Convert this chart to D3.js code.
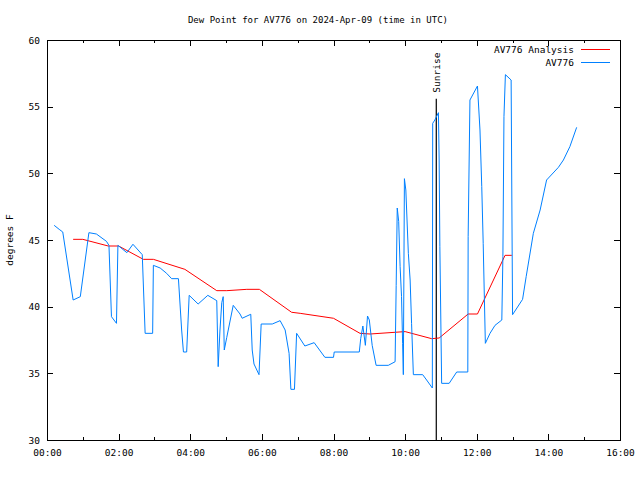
<!DOCTYPE html>
<html><head><meta charset="utf-8">
<script src="https://cdn.jsdelivr.net/npm/d3@7/dist/d3.min.js"></script>
<style>
body{margin:0;background:#fff;}
svg text{font-family:"DejaVu Sans Mono","Liberation Mono",monospace;font-size:9.5px;fill:#000;}
</style></head>
<body>
<svg id="c" width="640" height="480"></svg>
<script>
const title = "Dew Point for AV776 on 2024-Apr-09 (time in UTC)";
const yLabel = "degrees F";
const seriesNames = ["AV776 Analysis", "AV776"];
const seriesColors = ["#ff0000", "#0080ff"];
const xTickHours = [0,2,4,6,8,10,12,14,16];
const yTicks = [30,35,40,45,50,55,60];
const sunriseHour = 10.87;
const sunriseLabel = "Sunrise";

// observed dew point (hours UTC, degrees F)
const obsHours = [0.20,0.34,0.44,0.73,0.93,1.17,1.38,1.66,1.73,1.80,1.94,1.98,2.23,2.40,2.66,2.74,2.95,2.97,3.16,3.34,3.48,3.67,3.76,3.81,3.90,3.97,4.22,4.49,4.74,4.78,4.83,4.88,4.92,4.95,5.02,5.20,5.39,5.45,5.69,5.73,5.78,5.92,5.98,6.29,6.51,6.65,6.76,6.81,6.91,6.97,7.20,7.46,7.76,8.00,8.02,8.72,8.76,8.82,8.89,8.95,9.00,9.08,9.19,9.53,9.72,9.75,9.78,9.82,9.86,9.90,9.93,9.95,9.98,10.02,10.09,10.14,10.18,10.23,10.49,10.60,10.76,10.77,10.83,10.93,10.95,10.97,11.02,11.23,11.44,11.75,11.76,11.81,12.02,12.09,12.14,12.18,12.24,12.37,12.51,12.70,12.73,12.76,12.80,12.96,12.98,13.00,13.28,13.38,13.58,13.77,13.95,14.28,14.42,14.60,14.79];
const obsValues = [46.1,45.8,45.6,40.5,40.75,45.55,45.45,44.9,44.6,39.25,38.75,44.6,44.05,44.68,43.9,38.0,38.0,43.1,42.9,42.5,42.1,42.1,38.25,36.6,36.6,40.85,40.2,40.85,40.45,35.5,38.25,40.3,40.75,36.75,37.7,40.1,39.45,39.13,39.43,36.75,35.7,34.9,38.7,38.7,38.95,38.25,36.5,33.8,33.8,38.0,37.05,37.3,36.2,36.2,36.6,36.6,37.6,38.55,37.1,39.3,39.0,37.1,35.6,35.6,35.87,41.6,47.4,46.4,43.0,40.75,37.25,34.9,49.6,48.75,44.0,42.0,38.75,34.9,34.9,34.5,33.9,53.75,54.0,54.55,51.0,44.5,34.25,34.25,35.1,35.1,45.25,55.5,56.55,53.25,49.0,44.75,37.25,38.0,38.6,39.0,43.75,54.25,57.4,57.0,48.0,39.4,40.55,42.25,45.5,47.25,49.5,50.45,51.0,52.0,53.45];

// analysis dew point
const anaHours = [0.73,1.00,1.71,2.00,2.69,2.97,3.85,4.74,5.02,5.58,5.93,6.83,7.07,8.00,8.74,9.02,10.00,10.74,10.95,11.76,12.02,12.79,12.98];
const anaValues = [45.05,45.05,44.55,44.55,43.55,43.55,42.8,41.2,41.2,41.3,41.3,39.58,39.5,39.13,38.0,37.95,38.13,37.6,37.65,39.45,39.45,43.85,43.85];

const L = 47, R = 620, T = 40, B = 440;
const svg = d3.select("#c");
const x = d3.scaleLinear().domain([0,16]).range([L,R]);
const y = d3.scaleLinear().domain([30,60]).range([B,T]);
const fmt = h => String(h).padStart(2,"0") + ":00";
const allHours = d3.range(0,17);
const minorHours = allHours.filter(h => h % 2 === 1);

// title
svg.append("text").attr("x",318).attr("y",23).attr("text-anchor","middle")
  .style("font-size","9px").text(title);

// axes
const gB = svg.append("g").attr("transform",`translate(0,${B})`)
  .call(d3.axisBottom(x).tickValues(xTickHours).tickFormat(fmt).tickSize(-6).tickPadding(9));
const gBm = svg.append("g").attr("transform",`translate(0,${B})`)
  .call(d3.axisBottom(x).tickValues(minorHours).tickFormat("").tickSize(-3));
const gT = svg.append("g").attr("transform",`translate(0,${T})`)
  .call(d3.axisTop(x).tickValues(xTickHours).tickFormat("").tickSize(-6));
const gTm = svg.append("g").attr("transform",`translate(0,${T})`)
  .call(d3.axisTop(x).tickValues(minorHours).tickFormat("").tickSize(-3));
const gL = svg.append("g").attr("transform",`translate(${L},0)`)
  .call(d3.axisLeft(y).tickValues(yTicks).tickSize(-6).tickPadding(7));
const gR = svg.append("g").attr("transform",`translate(${R},0)`)
  .call(d3.axisRight(y).tickValues(yTicks).tickFormat("").tickSize(-6));
[gB,gBm,gT,gTm,gL,gR].forEach(g=>{
  g.select(".domain").remove();
  g.selectAll("line").attr("stroke","#000").attr("shape-rendering","crispEdges");
  g.selectAll("text").attr("font-family",null).attr("font-size",null).attr("fill","#000");
});

// frame
svg.append("rect").attr("x",L+0.5).attr("y",T+0.5).attr("width",R-L).attr("height",B-T)
  .attr("fill","none").attr("stroke","#000").attr("shape-rendering","crispEdges");

// y label
svg.append("text").attr("transform",`translate(13,${(T+B)/2}) rotate(-90)`)
  .attr("text-anchor","middle").text(yLabel);

// sunrise
svg.append("line").attr("x1",x(sunriseHour)).attr("x2",x(sunriseHour))
  .attr("y1",y(55.6)).attr("y2",B).attr("stroke","#000").attr("stroke-width",1.2);
svg.append("text").attr("transform",`translate(${x(sunriseHour)+4},${y(55.6)-6}) rotate(-90)`)
  .attr("text-anchor","start").text(sunriseLabel);

// lines
const line = d3.line().x(d=>x(d[0])).y(d=>y(d[1]));
const anaData = anaHours.map((h,i)=>[h,anaValues[i]]);
const obsData = obsHours.map((h,i)=>[h,obsValues[i]]);
svg.append("path").datum(anaData).attr("d",line).attr("fill","none")
  .attr("stroke",seriesColors[0]).attr("stroke-width",1);
svg.append("path").datum(obsData).attr("d",line).attr("fill","none")
  .attr("stroke",seriesColors[1]).attr("stroke-width",1);

// legend
seriesNames.forEach((n,i)=>{
  const yy = 49 + i*13;
  svg.append("text").attr("x",574).attr("y",yy+3.5).attr("text-anchor","end").text(n);
  svg.append("line").attr("x1",581).attr("x2",610).attr("y1",yy+0.5).attr("y2",yy+0.5)
    .attr("stroke",seriesColors[i]).attr("stroke-width",1);
});
</script>
</body></html>
